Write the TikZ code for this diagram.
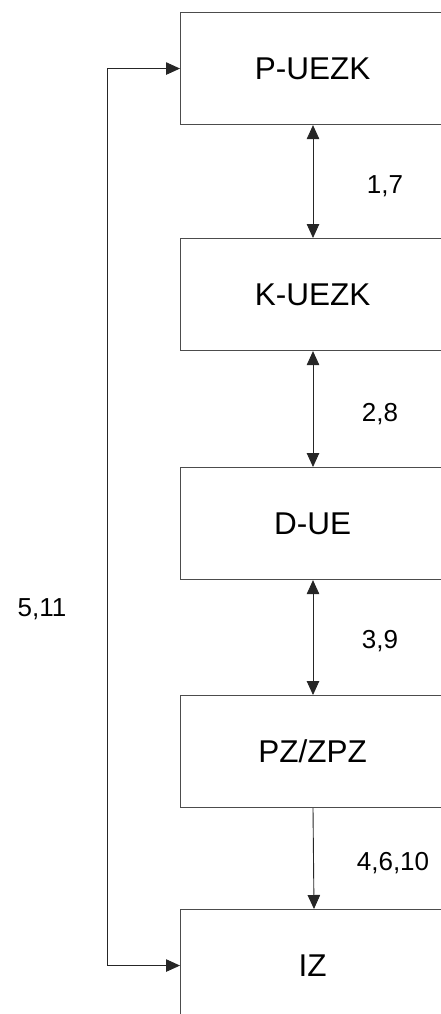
\documentclass[tikz,border=0pt]{standalone}
\usepackage{fontspec}
\setmainfont{Liberation Sans}
\usetikzlibrary{arrows.meta}
\begin{document}
\begin{tikzpicture}[x=1pt,y=-1pt,
  blk/.style={draw=black!70,line width=1.1pt,minimum width=264pt,minimum height=112pt,anchor=north west,inner sep=0pt,font=\fontsize{31.5}{31.5}\selectfont},
  lbl/.style={font=\fontsize{26}{26}\selectfont},
  tip/.style={Triangle[length=14pt,width=12.5pt]},
  conn/.style={line width=0.9pt,draw=black!85,{Triangle[length=14pt,width=12.5pt]}-{Triangle[length=14pt,width=12.5pt]}},
  conn1/.style={line width=0.9pt,draw=black!85,-{Triangle[length=14pt,width=12.5pt]}}]
\useasboundingbox (0,0) rectangle (441,1014);
\node[blk] (b1) at (180,12) {P-UEZK};
\node[blk] (b2) at (180,238) {K-UEZK};
\node[blk] (b3) at (180,467) {D-UE};
\node[blk] (b4) at (180,695) {PZ/ZPZ};
\node[blk] (b5) at (180,909) {IZ};
\draw[conn] ([xshift=133pt]b1.south west) -- ([xshift=133pt]b2.north west);
\draw[conn] ([xshift=133pt]b2.south west) -- ([xshift=133pt]b3.north west);
\draw[conn] ([xshift=133pt]b3.south west) -- ([xshift=133pt]b4.north west);
\draw[conn1] ([xshift=133pt]b4.south west) -- ([xshift=134pt]b5.north west);
\draw[conn] (b1.west) -- ++(-73,0) |- (b5.west);
\node[lbl] (l1) at (385,186) {1,7};
\node[lbl] (l2) at (380,414) {2,8};
\node[lbl] (l3) at (380,641) {3,9};
\node[lbl] (l4) at (393,863) {4,6,10};
\node[lbl] (l5) at (42,609) {5,11};
\end{tikzpicture}
\end{document}
